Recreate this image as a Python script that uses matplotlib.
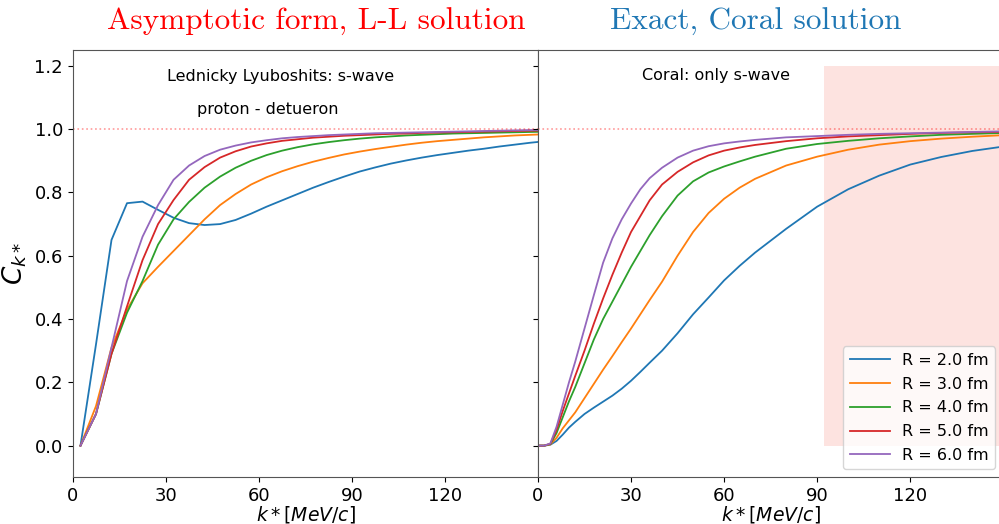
import numpy as np
import matplotlib
matplotlib.use('Agg')
import matplotlib.pyplot as plt

# Lednicky-Lyuboshits (left), k* grid in MeV/c
k_ll = [2.5, 7.5, 12.5, 17.5, 22.5, 27.5, 32.5, 37.5, 42.5, 47.5, 52.5, 57.5, 62.5, 67.5, 72.5, 77.5,
        82.5, 87.5, 92.5, 97.5, 102.5, 107.5, 112.5, 117.5, 122.5, 127.5, 132.5, 137.5, 142.5, 147.5, 152.5]
ll_r2 = [0.0, 0.32, 0.65, 0.766, 0.771, 0.745, 0.72, 0.703, 0.697, 0.70, 0.713, 0.733, 0.755, 0.775, 0.795, 0.815,
         0.833, 0.85, 0.866, 0.879, 0.891, 0.901, 0.910, 0.918, 0.925, 0.932, 0.938, 0.945, 0.951, 0.957, 0.962]
ll_r3 = [0.0, 0.125, 0.31, 0.43, 0.513, 0.565, 0.615, 0.665, 0.715, 0.76, 0.795, 0.825, 0.848, 0.867, 0.883, 0.897,
         0.909, 0.92, 0.929, 0.937, 0.944, 0.951, 0.957, 0.962, 0.966, 0.970, 0.974, 0.977, 0.980, 0.982, 0.984]
ll_r4 = [0.0, 0.10, 0.29, 0.42, 0.52, 0.635, 0.715, 0.77, 0.815, 0.85, 0.878, 0.90, 0.918, 0.932, 0.943, 0.952,
         0.959, 0.965, 0.97, 0.974, 0.977, 0.980, 0.982, 0.984, 0.986, 0.987, 0.988, 0.989, 0.990, 0.991, 0.992]
ll_r5 = [0.0, 0.10, 0.29, 0.44, 0.586, 0.70, 0.776, 0.84, 0.88, 0.91, 0.93, 0.945, 0.955, 0.963, 0.968, 0.973,
         0.976, 0.979, 0.981, 0.983, 0.985, 0.986, 0.988, 0.989, 0.990, 0.991, 0.992, 0.993, 0.994, 0.995, 0.995]
ll_r6 = [0.0, 0.10, 0.31, 0.52, 0.66, 0.76, 0.84, 0.885, 0.915, 0.935, 0.948, 0.958, 0.965, 0.971, 0.975, 0.978,
         0.981, 0.983, 0.985, 0.987, 0.988, 0.989, 0.990, 0.991, 0.992, 0.993, 0.994, 0.995, 0.996, 0.997, 0.997]

# Coral (right)
k_cr = [0, 2, 4, 6, 8, 10, 12, 15, 18, 21, 24, 27, 30, 33, 36, 40, 45, 50, 55, 60, 65, 70,
        80, 90, 100, 110, 120, 130, 140, 150]
cr_r2 = [0, 0, 0.003, 0.015, 0.035, 0.057, 0.075, 0.10, 0.12, 0.139, 0.158, 0.18, 0.205, 0.233, 0.262, 0.30,
         0.355, 0.415, 0.468, 0.522, 0.568, 0.61, 0.685, 0.755, 0.81, 0.853, 0.888, 0.912, 0.931, 0.945]
cr_r3 = [0, 0, 0.004, 0.025, 0.055, 0.08, 0.105, 0.15, 0.195, 0.24, 0.283, 0.327, 0.37, 0.415, 0.46, 0.518,
         0.60, 0.675, 0.735, 0.78, 0.815, 0.843, 0.885, 0.913, 0.935, 0.951, 0.962, 0.970, 0.976, 0.981]
cr_r4 = [0, 0, 0.005, 0.04, 0.09, 0.14, 0.185, 0.26, 0.335, 0.40, 0.455, 0.51, 0.565, 0.615, 0.665, 0.725,
         0.79, 0.835, 0.863, 0.882, 0.898, 0.913, 0.938, 0.953, 0.963, 0.971, 0.977, 0.982, 0.985, 0.988]
cr_r5 = [0, 0, 0.006, 0.05, 0.11, 0.165, 0.22, 0.30, 0.385, 0.465, 0.54, 0.61, 0.675, 0.725, 0.775, 0.825,
         0.865, 0.895, 0.917, 0.932, 0.942, 0.95, 0.962, 0.971, 0.977, 0.981, 0.985, 0.988, 0.990, 0.991]
cr_r6 = [0, 0, 0.007, 0.06, 0.13, 0.20, 0.265, 0.37, 0.475, 0.578, 0.655, 0.715, 0.765, 0.81, 0.845, 0.878,
         0.91, 0.932, 0.946, 0.955, 0.961, 0.966, 0.974, 0.978, 0.982, 0.985, 0.987, 0.989, 0.991, 0.993]

labels = ['R = 2.0 fm', 'R = 3.0 fm', 'R = 4.0 fm', 'R = 5.0 fm', 'R = 6.0 fm']
xticks = [0, 30, 60, 90, 120]
yticks = [0.0, 0.2, 0.4, 0.6, 0.8, 1.0, 1.2]
shade_k = [92.3, 160]

fig = plt.figure(figsize=(9.99, 5.24), dpi=100)
ax1 = fig.add_axes([0.0728, 0.0891, 0.4658, 0.8155])
ax2 = fig.add_axes([0.5385, 0.0891, 0.4658, 0.8155], sharey=ax1)

for y, lab in zip([ll_r2, ll_r3, ll_r4, ll_r5, ll_r6], labels):
    ax1.plot(k_ll, y, lw=1.3, label=lab)
for y, lab in zip([cr_r2, cr_r3, cr_r4, cr_r5, cr_r6], labels):
    ax2.plot(k_cr, y, lw=1.3, label=lab)

ax2.fill_between(shade_k, 0, 1.2, color='salmon', alpha=0.22, lw=0, zorder=0)

for ax in (ax1, ax2):
    ax.axhline(1.0, color='red', alpha=0.4, ls=':', lw=1.2)
    ax.set_xlim(0, 150)
    ax.set_ylim(-0.1, 1.25)
    ax.set_xticks(xticks)
    ax.set_yticks(yticks)
    ax.tick_params(labelsize=13, right=True, direction='out')
    ax.set_xlabel(r'$k*[MeV/c]$', fontsize=13.5, labelpad=-1)
    for s in ax.spines.values():
        s.set_color('#555555')
ax1.tick_params(labelright=False)
ax2.tick_params(labelleft=False, right=False)
ax1.set_ylabel(r'$C_{k*}$', fontsize=19)

ax1.text(66.9, 1.165, 'Lednicky Lyuboshits: s-wave', ha='center', va='center', fontsize=11.5)
ax1.text(63, 1.061, 'proton - detueron', ha='center', va='center', fontsize=11.5)
ax2.text(57.3, 1.169, 'Coral: only s-wave', ha='center', va='center', fontsize=11.5)

ax2.legend(loc='lower right', fontsize=11.5, handlelength=2.5, labelspacing=0.55)

fig.text(0.317, 0.958, 'Asymptotic form, L-L solution', color='red', fontsize=22.5,
         family='cmr10', ha='center', va='center')
fig.text(0.757, 0.958, 'Exact, Coral solution', color='#1f77b4', fontsize=22.5,
         family='cmr10', ha='center', va='center')

plt.savefig('out.png', dpi=100)
